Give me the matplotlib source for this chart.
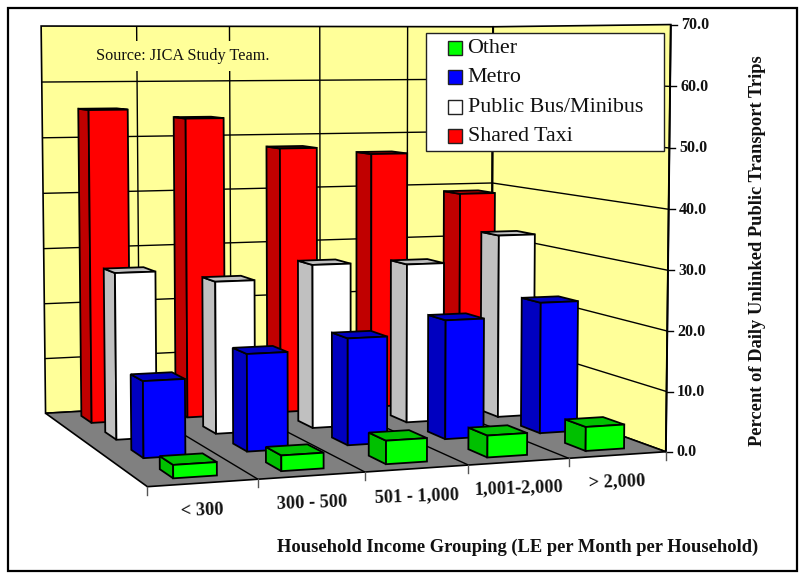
import numpy as np
import matplotlib
matplotlib.use("Agg")
import matplotlib.pyplot as plt
from matplotlib.patches import Polygon, Rectangle

categories = ["< 300", "300 - 500", "501 - 1,000", "1,001-2,000", "> 2,000"]
series_names = ["Other", "Metro", "Public Bus/Minibus", "Shared Taxi"]
other = [2.1, 2.5, 3.8, 3.6, 4.0]
metro = [12.6, 16.2, 18.0, 20.3, 22.6]
bus = [28.4, 26.3, 28.6, 28.1, 32.7]
taxi = [55.3, 53.6, 48.0, 46.7, 39.0]
yticks = [0, 10, 20, 30, 40, 50, 60, 70]

front_cols = ["#00FF00", "#0000FF", "#FFFFFF", "#FF0000"]
side_cols = ["#00C000", "#0000C0", "#C0C0C0", "#C00000"]
WALL = "#FFFF99"
FLOOR = "#808080"
SERIF = "Liberation Serif"
BAR_WIDTH = 0.40
BAR_DEPTH = 0.44

# camera calibration: (category pos, depth 0-1, value) -> pixel
calib_world = np.array([(0, 1, 70), (0, 1, 0), (0, 0, 0), (5, 0, 0), (5, 0, 70),
                        (5, 1, 70), (5, 1, 0), (5, 1, 40)], float)
calib_px = np.array([(41, 26), (46, 413), (147, 487), (666, 451), (671, 25),
                     (493, 27), (491, 389.5), (492.5, 182)], float)
A = []
for (X, Y, Z), (x, y) in zip(calib_world, calib_px):
    A.append([X, Y, Z, 1, 0, 0, 0, 0, -x * X, -x * Y, -x * Z, -x])
    A.append([0, 0, 0, 0, X, Y, Z, 1, -y * X, -y * Y, -y * Z, -y])
P = np.linalg.svd(np.array(A))[2][-1].reshape(3, 4)


def proj(u, v, z):
    h = P @ np.array([u, v, z, 1.0])
    return h[0] / h[2], h[1] / h[2]


fig = plt.figure(figsize=(8.01, 5.80), dpi=100)
ax = fig.add_axes([0, 0, 1, 1])
ax.set_xlim(0, 801)
ax.set_ylim(580, 0)
ax.axis("off")

ax.add_patch(Rectangle((8, 8), 789, 563, fc="white", ec="black", lw=1.6, zorder=0))


def face(pts, fc, z=1, lw=1.3):
    ax.add_patch(Polygon([proj(*p) for p in pts], closed=True, fc=fc, ec="black",
                         lw=lw, zorder=z, joinstyle="miter"))


def line(a, b, lw=1.0, z=2, color="black"):
    pa, pb = proj(*a), proj(*b)
    ax.plot([pa[0], pb[0]], [pa[1], pb[1]], color=color, lw=lw, zorder=z, solid_capstyle="butt")


# walls and floor
zmax = yticks[-1]
n = len(categories)
face([(0, 1, 0), (n, 1, 0), (n, 1, zmax), (0, 1, zmax)], WALL, lw=1.2)
face([(n, 1, 0), (n, 0, 0), (n, 0, zmax), (n, 1, zmax)], WALL, lw=1.2)
face([(0, 0, 0), (n, 0, 0), (n, 1, 0), (0, 1, 0)], FLOOR, lw=1.2)
for t in yticks[1:-1]:
    line((0, 1, t), (n, 1, t), lw=1.0)
    line((n, 1, t), (n, 0, t), lw=1.0)
for c in range(1, n):
    line((c, 1, 0), (c, 1, zmax), lw=1.0)
    line((c, 1, 0), (c, 0, 0), lw=1.0)
line((n, 0, 0), (n, 0, zmax), lw=1.4, z=1.5)
line((n, 1, 0), (n, 1, zmax), lw=1.4, z=2)

# source note
ax.text(183, 56, "Source: JICA Study Team.", family=SERIF, fontsize=11.7, ha="center", va="center",
        zorder=3, color="#111111", bbox=dict(fc=WALL, ec="none", pad=5))

# bars
values = [other, metro, bus, taxi]
cell = 1 / len(values)
zo = 4.0
for s in range(len(values) - 1, -1, -1):
    for c in range(n):
        val = values[s][c]
        u0 = c + (1 - BAR_WIDTH) / 2 + 0.01
        u1 = u0 + BAR_WIDTH
        v0 = s * cell + (1 - BAR_DEPTH) / 2 * cell
        v1 = v0 + BAR_DEPTH * cell
        face([(u0, v0, 0), (u0, v1, 0), (u0, v1, val), (u0, v0, val)], side_cols[s], z=zo)
        face([(u0, v0, val), (u0, v1, val), (u1, v1, val), (u1, v0, val)], side_cols[s], z=zo)
        face([(u0, v0, 0), (u1, v0, 0), (u1, v0, val), (u0, v0, val)], front_cols[s], z=zo)
        zo += 0.01

# value axis ticks
for t in yticks:
    x, y = proj(n, 0, t)
    ax.plot([x, x + 6], [y, y], color="black", lw=1.0, zorder=2)
    ax.text(x + 10.5, y + 0.5, f"{t:.1f}", family=SERIF, weight="bold", fontsize=11.5,
            ha="left", va="center", color="#111111")

# category ticks and labels
for c in range(n + 1):
    x, y = proj(c, 0, 0)
    ax.plot([x, x], [y, y + 8], color="#555555", lw=1.0, zorder=2)
label_xy = [(202.5, 510.5), (312, 503.5), (417, 496), (519, 488), (617, 481.5)]
for lab, (x, y) in zip(categories, label_xy):
    ax.text(x, y, lab, family=SERIF, weight="bold", fontsize=13.2, ha="center", va="center",
            rotation=2, rotation_mode="anchor", color="#111111")

ax.text(517.5, 547, "Household Income Grouping (LE per Month per Household)", family=SERIF,
        weight="bold", fontsize=13.3, ha="center", va="center", color="#111111")
ax.text(757, 251, "Percent of Daily Unlinked Public Transport Trips", family=SERIF, weight="bold",
        fontsize=13.3, ha="center", va="center", rotation=90, color="#111111")

# legend
ax.add_patch(Rectangle((425.5, 32.5), 238, 118, fc="white", ec="#222222", lw=1.0, zorder=8))
for i, name in enumerate(series_names):
    y = 48 + i * 29.3
    ax.add_patch(Rectangle((448, y - 7), 14, 14, fc=front_cols[i], ec="#222222", lw=1.0, zorder=9))
    ax.text(467.5, y + 0.5, name, family=SERIF, fontsize=15.8, ha="left", va="center", zorder=9,
            color="#111111")

fig.savefig("out.png", dpi=100)
